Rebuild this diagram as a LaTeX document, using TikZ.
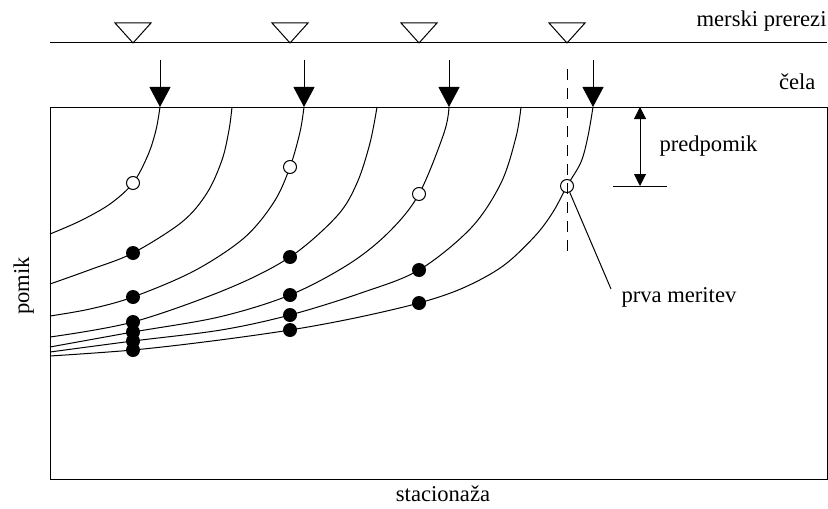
\documentclass[tikz,border=0pt]{standalone}
\usepackage{fontspec}
\setmainfont{Liberation Serif}
\usetikzlibrary{arrows.meta}
\tikzset{
  lbl/.style={font=\fontsize{11.3pt}{13pt}\selectfont, inner sep=0pt},
  push/.style={-{Triangle[length=10pt,width=10.5pt]}},
  dimline/.style={{Triangle[length=6pt,width=6pt]}-{Triangle[length=6pt,width=6pt]}},
  opendot/.style={circle, draw, fill=white, minimum size=6.5pt, inner sep=0pt},
  fulldot/.style={circle, fill=black, minimum size=7pt, inner sep=0pt},
}

\begin{document}
\begin{tikzpicture}[
  x=0.5pt, y=-0.5pt,
  line width=0.5pt,
  curve/.style={smooth, tension=0.55},
]
  \useasboundingbox (0,0) rectangle (828,508);

  %% Row 1: measuring sections
  \draw (50,43) -- (827,43);
  \foreach \x in {133,290,419,567}
    \draw (\x-18,23) -- (\x+18,23) -- (\x,43) -- cycle;
  \node[lbl, anchor=base east] (sect) at (827,27) {merski prerezi};

  %% Row 2: face positions
  \foreach \x in {160,304,449,593}
    \draw[push] (\x,60) -- (\x,107);
  \node[lbl, anchor=base east] (face) at (816,90) {čela};

  %% Frame
  \draw (50,107) rectangle (827,479);

  %% Displacement curves
  \draw plot[curve] coordinates {(160,107) (156,130) (148,155) (133,183)
    (110,204) (80,221) (50,234)};
  \draw plot[curve] coordinates {(232,107) (229,130) (222,160) (207,193)
    (182,222) (133,253) (92,269) (50,284)};
  \draw plot[curve] coordinates {(304,107) (300,132) (290,167) (274,202)
    (244,238) (194,271) (133,297) (90,309) (50,316)};
  \draw plot[curve] coordinates {(377,107) (370,143) (357,183) (337,216)
    (290,257) (227,289) (133,322) (50,337)};
  \draw plot[curve] coordinates {(449,107) (444,133) (419,194) (389,232)
    (349,264) (290,295) (219,317) (133,332) (50,347)};
  \draw plot[curve] coordinates {(521,107) (516,137) (501,183) (471,228)
    (419,270) (361,293) (290,315) (221,330) (133,341) (50,352)};
  \draw plot[curve] coordinates {(593,107) (588,136) (581,162) (567,186)
    (553,212) (535,236) (503,266) (463,288) (419,303) (355,318)
    (290,330) (212,341) (133,350) (50,356)};

  %% First readings (open) and later readings (filled)
  \node[opendot] (o1) at (133,183) {};
  \node[opendot] (o2) at (290,167) {};
  \node[opendot] (o3) at (419,194) {};
  \node[opendot] (o4) at (567,186) {};
  \foreach \x/\y [count=\i] in {133/253, 133/297, 133/322, 133/332, 133/341,
      133/350, 290/257, 290/295, 290/315, 290/330, 419/270, 419/303}
    \node[fulldot] (d\i) at (\x,\y) {};

  \draw[dash pattern=on 5.5pt off 4pt] (567,69) -- (567,257);

  %% Pre-displacement
  \draw[dimline] (640,107) -- (640,186);
  \draw (613,186) -- (667,186);
  \node[lbl, anchor=base west] (pre) at (659,151) {predpomik};

  %% First reading label
  \coordinate (lead) at (611,289);
  \node[lbl, anchor=base west] (first) at (621,302) {prva meritev};
  \draw (o4) -- (lead);

  %% Axes
  \node[lbl, rotate=90, anchor=base] (disp) at (29,286) {pomik};
  \node[lbl, anchor=base] (chain) at (443,501) {stacionaža};

\end{tikzpicture}
\end{document}
